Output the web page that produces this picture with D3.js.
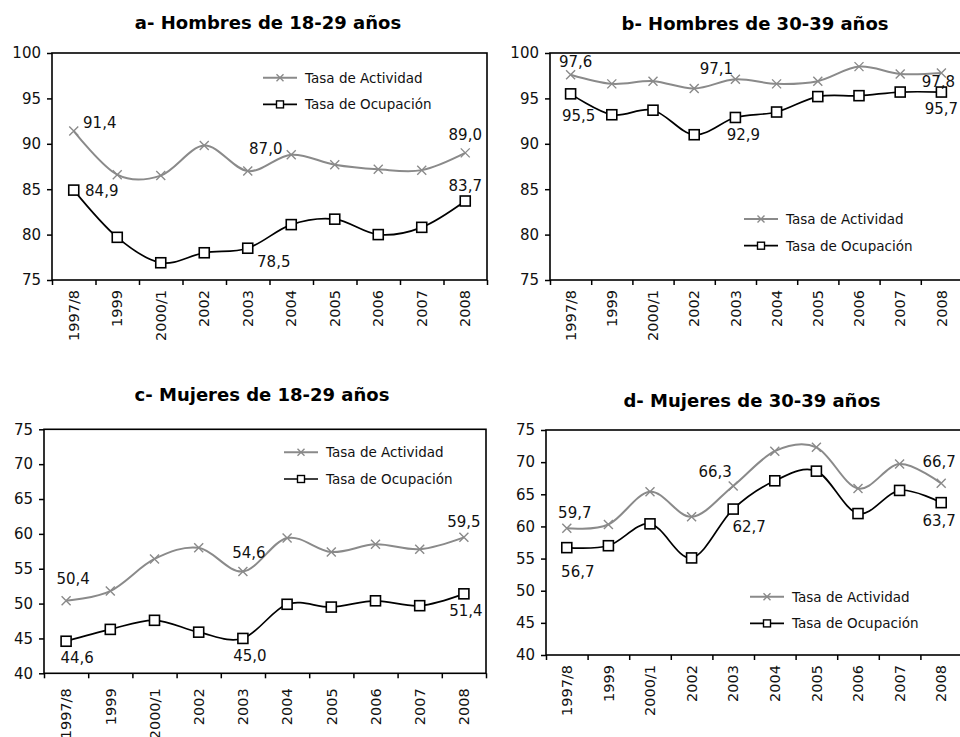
<!DOCTYPE html>
<html>
<head>
<meta charset="utf-8">
<script src="https://cdn.jsdelivr.net/npm/d3@7"></script>
<style>
body { margin: 0; background: #fff; }
svg { display: block; font-family: "DejaVu Sans", Verdana, sans-serif; }
</style>
</head>
<body>
<svg id="chart" width="960" height="737"></svg>
<script>
// categories
const years = ["1997/8", "1999", "2000/1", "2002", "2003", "2004", "2005", "2006", "2007", "2008"];

// a- Hombres 18-29
const actHom1829 = [91.4, 86.6, 86.5, 89.8, 87.0, 88.8, 87.7, 87.2, 87.1, 89.0];
const ocuHom1829 = [84.9, 79.7, 76.9, 78.0, 78.5, 81.1, 81.7, 80.0, 80.8, 83.7];
// b- Hombres 30-39
const actHom3039 = [97.6, 96.6, 96.9, 96.1, 97.1, 96.6, 96.9, 98.5, 97.7, 97.8];
const ocuHom3039 = [95.5, 93.2, 93.7, 91.0, 92.9, 93.5, 95.2, 95.3, 95.7, 95.7];
// c- Mujeres 18-29
const actMuj1829 = [50.4, 51.8, 56.4, 58.0, 54.6, 59.4, 57.4, 58.5, 57.8, 59.5];
const ocuMuj1829 = [44.6, 46.3, 47.6, 45.9, 45.0, 49.9, 49.5, 50.4, 49.7, 51.4];
// d- Mujeres 30-39
const actMuj3039 = [59.7, 60.3, 65.4, 61.5, 66.3, 71.7, 72.3, 65.9, 69.7, 66.7];
const ocuMuj3039 = [56.7, 57.0, 60.4, 55.1, 62.7, 67.1, 68.6, 62.0, 65.6, 63.7];

const ticksHom = [75, 80, 85, 90, 95, 100];
const ticksMuj = [40, 45, 50, 55, 60, 65, 70, 75];
const legendNames = ["Tasa de Actividad", "Tasa de Ocupación"];

const GRAY = "#8a8a8a";
const svg = d3.select("#chart");

const fmt = v => d3.format(".1f")(v).replace(".", ",");

function drawX(g, cx, cy, s) {
  g.append("path")
    .attr("d", `M${cx - s},${cy - s}L${cx + s},${cy + s}M${cx - s},${cy + s}L${cx + s},${cy - s}`)
    .attr("stroke", GRAY).attr("stroke-width", 1.4).attr("fill", "none");
}
function drawSq(g, cx, cy, s, w) {
  g.append("rect")
    .attr("x", cx - s).attr("y", cy - s).attr("width", 2 * s).attr("height", 2 * s)
    .attr("fill", "#fff").attr("stroke", "#000").attr("stroke-width", w);
}

function panel(cfg) {
  const g = svg.append("g");
  const x = d3.scaleBand().domain(years).range([cfg.left, cfg.right]).padding(0);
  const xEdge = d3.scaleLinear().domain([0, years.length]).range([cfg.left, cfg.right]);
  const y = d3.scaleLinear().domain(d3.extent(cfg.ticks)).range([cfg.bottom, cfg.top]);
  const cx = d => x(d) + x.bandwidth() / 2;

  // title
  g.append("text")
    .attr("x", cfg.titleX).attr("y", cfg.titleY)
    .attr("text-anchor", "middle")
    .style("font-size", "18px").style("font-weight", "bold")
    .text(cfg.title);

  // y axis
  const ya = g.append("g")
    .attr("transform", `translate(${cfg.left},0)`)
    .call(d3.axisLeft(y).tickValues(cfg.ticks).tickSize(5).tickPadding(6));
  ya.select(".domain").remove();
  ya.selectAll("line").attr("stroke", "#000").attr("stroke-width", 1.5);
  ya.selectAll("text").style("font-size", "15px").style("fill", "#111")
    .style("font-family", "DejaVu Sans");

  // x ticks at category edges
  const xt = g.append("g")
    .attr("transform", `translate(0,${cfg.bottom})`)
    .call(d3.axisBottom(xEdge).tickValues(d3.range(years.length + 1)).tickSize(5).tickFormat(""));
  xt.select(".domain").remove();
  xt.selectAll("line").attr("stroke", "#000").attr("stroke-width", 1.5);

  // x labels
  const xl = g.append("g")
    .attr("transform", `translate(0,${cfg.bottom})`)
    .call(d3.axisBottom(x).tickSize(0));
  xl.select(".domain").remove();
  xl.selectAll("text")
    .attr("transform", "rotate(-90)")
    .attr("x", -cfg.labGap).attr("y", 0).attr("dy", "0.36em")
    .style("text-anchor", "end")
    .style("font-size", "14.5px").style("fill", "#111")
    .style("font-family", "DejaVu Sans");

  // plot box
  g.append("rect")
    .attr("x", cfg.left).attr("y", cfg.top)
    .attr("width", cfg.right - cfg.left).attr("height", cfg.bottom - cfg.top)
    .attr("fill", "none").attr("stroke", "#000").attr("stroke-width", 1.6);

  const line = d3.line()
    .x((d, i) => cx(years[i]))
    .y(d => y(d))
    .curve(d3.curveCatmullRom.alpha(0));

  g.append("path").datum(cfg.act)
    .attr("d", line).attr("fill", "none").attr("stroke", GRAY).attr("stroke-width", 2);
  g.append("path").datum(cfg.ocu)
    .attr("d", line).attr("fill", "none").attr("stroke", "#000").attr("stroke-width", 1.7);

  cfg.act.forEach((v, i) => drawX(g, cx(years[i]), y(v), 4.5));
  cfg.ocu.forEach((v, i) => drawSq(g, cx(years[i]), y(v), 5, 1.6));

  // data labels
  cfg.labels.forEach(l => {
    const v = (l.s === "a" ? cfg.act : cfg.ocu)[l.i];
    g.append("text")
      .attr("x", cx(years[l.i]) + l.dx)
      .attr("y", y(v) + l.dy)
      .attr("text-anchor", "middle")
      .style("font-size", "15px").style("fill", "#111")
      .text(fmt(v));
  });

  // legend
  const lg = g.append("g").attr("transform", `translate(${cfg.legX},${cfg.legY})`);
  legendNames.forEach((name, i) => {
    const yy = i * 26.7;
    lg.append("line").attr("x1", 0).attr("x2", 34).attr("y1", yy).attr("y2", yy)
      .attr("stroke", i === 0 ? GRAY : "#000").attr("stroke-width", i === 0 ? 2 : 1.7);
    if (i === 0) drawX(lg, 17, yy, 3.5);
    else drawSq(lg, 17, yy, 3.5, 1.4);
    lg.append("text").attr("x", 42).attr("y", yy + 5)
      .style("font-size", "13.5px").style("fill", "#111")
      .text(name);
  });
}

panel({
  title: "a- Hombres de 18-29 años", titleX: 268, titleY: 29,
  left: 52, right: 487, top: 53, bottom: 280, ticks: ticksHom, labGap: 10,
  act: actHom1829, ocu: ocuHom1829, legX: 263, legY: 77.7,
  labels: [
    { s: "a", i: 0, dx: 26, dy: -3 }, { s: "o", i: 0, dx: 28, dy: 6 },
    { s: "a", i: 4, dx: 18, dy: -17 }, { s: "o", i: 4, dx: 26, dy: 19 },
    { s: "a", i: 9, dx: 0, dy: -13 }, { s: "o", i: 9, dx: 0, dy: -10 }
  ]
});

panel({
  title: "b- Hombres de 30-39 años", titleX: 755, titleY: 30,
  left: 550, right: 962, top: 53, bottom: 280, ticks: ticksHom, labGap: 10,
  act: actHom3039, ocu: ocuHom3039, legX: 744, legY: 219,
  labels: [
    { s: "a", i: 0, dx: 5, dy: -7.5 }, { s: "o", i: 0, dx: 8, dy: 27 },
    { s: "a", i: 4, dx: -19, dy: -5 }, { s: "o", i: 4, dx: 8, dy: 23 },
    { s: "a", i: 9, dx: -3, dy: 14 }, { s: "o", i: 9, dx: 0, dy: 22 }
  ]
});

panel({
  title: "c- Mujeres de 18-29 años", titleX: 262, titleY: 401,
  left: 44, right: 486, top: 429.3, bottom: 673.3, ticks: ticksMuj, labGap: 15,
  act: actMuj1829, ocu: ocuMuj1829, legX: 284, legY: 452.3,
  labels: [
    { s: "a", i: 0, dx: 7, dy: -16.5 }, { s: "o", i: 0, dx: 11, dy: 21.5 },
    { s: "a", i: 4, dx: 6, dy: -14 }, { s: "o", i: 4, dx: 7, dy: 22.5 },
    { s: "a", i: 9, dx: 0, dy: -10 }, { s: "o", i: 9, dx: 2, dy: 22 }
  ]
});

panel({
  title: "d- Mujeres de 30-39 años", titleX: 752, titleY: 407,
  left: 546, right: 962, top: 430, bottom: 655, ticks: ticksMuj, labGap: 10,
  act: actMuj3039, ocu: ocuMuj3039, legX: 750, legY: 596.7,
  labels: [
    { s: "a", i: 0, dx: 8, dy: -10 }, { s: "o", i: 0, dx: 11, dy: 29 },
    { s: "a", i: 4, dx: -18, dy: -9 }, { s: "o", i: 4, dx: 16, dy: 22.7 },
    { s: "a", i: 9, dx: -2, dy: -16.5 }, { s: "o", i: 9, dx: -2, dy: 23 }
  ]
});
</script>
</body>
</html>
